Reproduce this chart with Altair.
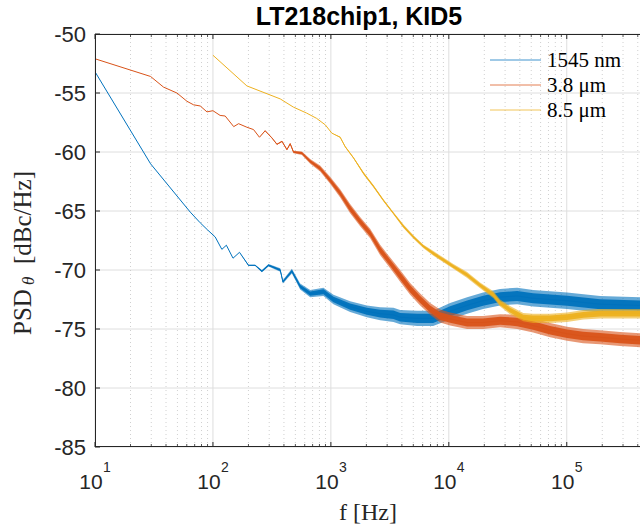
import altair as alt
import pandas as pd

W, H = 545, 413

# ---- data: frequency [Hz], PSD [dBc/Hz], half-width of the noise band [dB] ----
f_1545 = [10, 29.6, 64.3, 78, 90, 104.5, 119, 130, 148, 168, 200, 228, 260, 296,
          372, 392, 467, 549, 668, 865, 1052, 1457, 2019, 2618, 3395, 3867, 5387,
          7362, 10250, 14290, 19530, 27230, 37960, 51860, 100700, 191900, 417900]
psd_1545 = [-53.2, -61.0, -65.1, -66.0, -66.6, -67.2, -68.25, -67.9, -69.0, -68.5,
            -69.6, -69.6, -70.1, -69.6, -70.0, -71.0, -70.1, -71.4, -72.0, -71.85,
            -72.5, -73.1, -73.5, -73.7, -73.8, -74.0, -74.1, -74.1, -73.5, -73.0,
            -72.6, -72.3, -72.2, -72.4, -72.6, -72.9, -73.0]
band_1545 = [0, 0, 0, 0, 0, 0, 0, 0, 0, 0, 0.05, 0.05, 0.1, 0.1,
             0.15, 0.15, 0.2, 0.25, 0.3, 0.35, 0.4, 0.45, 0.5, 0.55, 0.6, 0.6, 0.65,
             0.65, 0.7, 0.7, 0.7, 0.7, 0.7, 0.7, 0.7, 0.7, 0.7]

f_38 = [10, 29.6, 38.1, 49.5, 60.2, 68.5, 78, 89, 100, 115, 127, 150, 165, 194,
        221, 248, 277, 316, 349, 385, 424, 452, 482, 568, 668, 811, 986, 1199,
        1457, 1771, 2153, 2618, 3183, 3867, 4700, 5714, 6946, 8439, 10250, 14290,
        19530, 27230, 37960, 51860, 72290, 100700, 137500, 191900, 283300, 417900]
psd_38 = [-52.1, -53.6, -54.5, -55.0, -55.7, -56.0, -56.1, -56.6, -56.5, -56.9,
          -56.95, -57.85, -57.6, -57.9, -58.1, -58.75, -58.2, -58.8, -59.35, -59.1,
          -59.8, -59.3, -60.0, -60.1, -60.8, -61.4, -62.4, -63.5, -64.8, -65.9,
          -66.9, -68.3, -69.4, -70.5, -71.6, -72.5, -73.3, -73.9, -74.15, -74.45,
          -74.45, -74.3, -74.4, -74.7, -75.1, -75.4, -75.6, -75.7, -75.85, -75.95]
band_38 = [0, 0, 0, 0, 0, 0, 0, 0, 0, 0, 0, 0, 0, 0,
           0, 0, 0.02, 0.03, 0.04, 0.05, 0.06, 0.08, 0.1, 0.15, 0.2, 0.25, 0.3, 0.35,
           0.4, 0.4, 0.4, 0.45, 0.45, 0.5, 0.5, 0.5, 0.5, 0.55, 0.55, 0.55,
           0.55, 0.55, 0.6, 0.6, 0.6, 0.6, 0.6, 0.6, 0.6, 0.6]

f_85 = [100, 194, 372, 482, 622, 757, 897, 1018, 1199, 1322, 1556, 1889, 2296,
        2791, 3395, 4126, 5014, 6094, 7404, 8997, 10930, 14220, 18420, 23880,
        27230, 33040, 42830, 51860, 72290, 100700, 138400, 191900, 417900]
psd_85 = [-51.8, -54.4, -55.5, -56.2, -56.7, -57.15, -57.7, -58.4, -58.75, -59.55,
          -60.5, -61.8, -62.9, -64.1, -65.2, -66.3, -67.2, -68.0, -68.6, -69.15,
          -69.7, -70.4, -71.3, -72.1, -72.8, -73.4, -74.0, -74.1, -74.1, -74.0,
          -73.8, -73.7, -73.7]
band_85 = [0, 0, 0, 0, 0, 0, 0, 0, 0.05, 0.05, 0.05, 0.1, 0.1,
           0.1, 0.1, 0.15, 0.15, 0.15, 0.2, 0.2, 0.2, 0.25, 0.25, 0.3,
           0.3, 0.35, 0.35, 0.4, 0.4, 0.4, 0.4, 0.4, 0.4]

series_names = ["1545 nm", "3.8 μm", "8.5 μm"]
series_colors = ["#0072BD", "#D95319", "#EDB120"]
series_data = [(f_1545, psd_1545, band_1545), (f_38, psd_38, band_38), (f_85, psd_85, band_85)]

y_ticks = [-85, -80, -75, -70, -65, -60, -55, -50]
x_decades = [10, 100, 1000, 10000, 100000]
x_exponents = ["1", "2", "3", "4", "5"]
x_min, x_max = 10, 417900
x_minor = [m * d for d in x_decades for m in range(2, 10) if m * d <= x_max]

AX = "#262626"
GRID = "#dedede"
SANS = "Liberation Sans"
SERIF = "Liberation Serif"

xs = alt.Scale(type="log", domain=[x_min, x_max], nice=False)
ys = alt.Scale(domain=[-85, -50], nice=False, zero=False)


def X(field="f"):
    return alt.X(f"{field}:Q", scale=xs, axis=None)


def Y(field="psd"):
    return alt.Y(f"{field}:Q", scale=ys, axis=None)


one = pd.DataFrame({"k": [0]})
df_major = pd.DataFrame({"f": x_decades, "exp": x_exponents})
df_minor = pd.DataFrame({"f": x_minor})
df_yt = pd.DataFrame({"psd": y_ticks, "lab": [str(v) for v in y_ticks]})

# grid: solid at decades and every 5 dB, dotted at minor log positions
grid_x = alt.Chart(df_major).mark_rule(color=GRID, strokeWidth=1).encode(
    x=X(), y=alt.value(0), y2=alt.value(H))
grid_y = alt.Chart(df_yt).mark_rule(color=GRID, strokeWidth=1).encode(
    y=Y(), x=alt.value(0), x2=alt.value(W))
grid_minor = alt.Chart(df_minor).mark_rule(color="#c4c4c4", strokeWidth=0.8,
                                           strokeDash=[1, 3]).encode(
    x=X(), y=alt.value(0), y2=alt.value(H))

# data traces: noise band (soft outer edge, denser core) plus centre line
trace_layers = []
for name, color, (fv, pv, bv) in zip(series_names, series_colors, series_data):
    d = pd.DataFrame({"f": fv, "psd": pv, "band": bv})
    d["lo"] = d["psd"] - d["band"]
    d["hi"] = d["psd"] + d["band"]
    d["lo_in"] = d["psd"] - 0.6 * d["band"]
    d["hi_in"] = d["psd"] + 0.6 * d["band"]
    outer = alt.Chart(d).mark_area(color=color, opacity=0.6, clip=True).encode(
        x=X(), y=Y("lo"), y2="hi:Q")
    inner = alt.Chart(d).mark_area(color=color, opacity=0.95, clip=True).encode(
        x=X(), y=Y("lo_in"), y2="hi_in:Q")
    line = alt.Chart(d).mark_line(color=color, strokeWidth=1, clip=True).encode(
        x=X(), y=Y("psd"))
    trace_layers += [outer, inner, line]

# box lines (left, bottom, top) and inward ticks
frame = [
    alt.Chart(one).mark_rule(color=AX, strokeWidth=1).encode(
        x=alt.value(0.5), y=alt.value(0), y2=alt.value(H)),
    alt.Chart(one).mark_rule(color=AX, strokeWidth=1).encode(
        x=alt.value(0), x2=alt.value(W), y=alt.value(H - 0.5)),
    alt.Chart(one).mark_rule(color=AX, strokeWidth=1).encode(
        x=alt.value(0), x2=alt.value(W), y=alt.value(0.5)),
]
for y0, y1 in [(H, H - 5), (0, 5)]:
    frame.append(alt.Chart(df_major).mark_rule(color=AX, strokeWidth=1).encode(
        x=X(), y=alt.value(y0), y2=alt.value(y1)))
for y0, y1 in [(H, H - 3), (0, 3)]:
    frame.append(alt.Chart(df_minor).mark_rule(color=AX, strokeWidth=0.8).encode(
        x=X(), y=alt.value(y0), y2=alt.value(y1)))
frame.append(alt.Chart(df_yt).mark_rule(color=AX, strokeWidth=1).encode(
    y=Y(), x=alt.value(0), x2=alt.value(5)))

# tick labels
y_labels = alt.Chart(df_yt).mark_text(font=SANS, fontSize=22, color=AX, align="right",
                                      baseline="middle", dy=1).encode(
    y=Y(), x=alt.value(-9), text="lab:N")
xl_base = alt.Chart(df_major).mark_text(font=SANS, fontSize=21, color=AX, align="center",
                                        baseline="alphabetic", dx=-4).encode(
    x=X(), y=alt.value(H + 42), text=alt.value("10"))
xl_exp = alt.Chart(df_major).mark_text(font=SANS, fontSize=14, color=AX, align="left",
                                       baseline="alphabetic", dx=8).encode(
    x=X(), y=alt.value(H + 25), text="exp:N")

# legend
df_leg = pd.DataFrame({"name": series_names, "color": series_colors,
                       "row": [26, 51, 76]})
leg_lines = alt.Chart(df_leg).mark_rule(strokeWidth=1, opacity=0.75).encode(
    x=alt.value(395), x2=alt.value(446), y=alt.Y("row:Q", scale=None, axis=None),
    color=alt.Color("color:N", scale=None))
leg_text = alt.Chart(df_leg).mark_text(font=SERIF, fontSize=21, color="#000", align="left",
                                       baseline="middle", dy=1).encode(
    x=alt.value(452), y=alt.Y("row:Q", scale=None, axis=None), text="name:N")

# titles
title = alt.Chart(one).mark_text(font=SANS, fontSize=25, fontWeight="bold", color="#000",
                                 align="center", baseline="alphabetic").encode(
    x=alt.value(264), y=alt.value(-9), text=alt.value("LT218chip1, KID5"))
xtitle = alt.Chart(one).mark_text(font=SERIF, fontSize=24, color=AX, align="center",
                                  baseline="alphabetic").encode(
    x=alt.value(273), y=alt.value(H + 73), text=alt.value("f [Hz]"))
yt_psd = alt.Chart(one).mark_text(font=SERIF, fontSize=25, color=AX, align="left",
                                  baseline="alphabetic", angle=270).encode(
    x=alt.value(-64), y=alt.value(301), text=alt.value("PSD"))
yt_sub = alt.Chart(one).mark_text(font=SERIF, fontSize=17, fontStyle="italic", color=AX,
                                  align="left", baseline="alphabetic", angle=270).encode(
    x=alt.value(-61), y=alt.value(251), text=alt.value("θ"))
yt_unit = alt.Chart(one).mark_text(font=SERIF, fontSize=25, color=AX, align="left",
                                   baseline="alphabetic", angle=270).encode(
    x=alt.value(-64), y=alt.value(230), text=alt.value("[dBc/Hz]"))

chart = alt.layer(
    grid_x, grid_y, grid_minor, *trace_layers, *frame, y_labels, xl_base, xl_exp,
    leg_lines, leg_text, title, xtitle, yt_psd, yt_sub, yt_unit
).properties(
    width=W, height=H,
    autosize=alt.AutoSizeParams(type="none"),
    padding={"left": 95, "top": 34, "right": 0, "bottom": 82},
    background="white",
).configure_view(stroke=None)

chart.save("out.html", embed_options={"renderer": "svg", "actions": False})
